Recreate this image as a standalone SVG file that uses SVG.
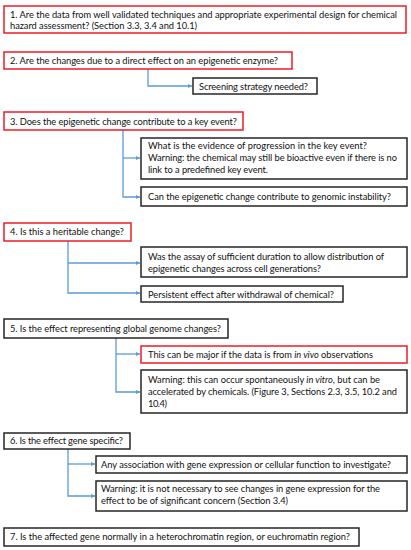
<svg xmlns="http://www.w3.org/2000/svg" width="411" height="550" viewBox="0 0 411 550">
<style>
.red{fill:#fff;stroke:#ed1c24;stroke-width:1.5}
.blk{fill:#fff;stroke:#262626;stroke-width:1.5}
text{font-family:Lato,"Liberation Sans",sans-serif;font-size:9.3px;fill:#111}
.c{fill:none;stroke:#5b9bd5;stroke-width:1.3}
</style>
<defs>
<marker id="ah" viewBox="0 0 6 6" refX="6" refY="3" markerWidth="4" markerHeight="4" orient="auto" markerUnits="userSpaceOnUse">
<path d="M0,0 L6,3 L0,6 z" fill="#5b9bd5"/>
</marker>
</defs>
<rect width="411" height="550" fill="#fff"/>
<g id="connectors">
<path class="c" d="M148,69 V86 H192" marker-end="url(#ah)"/>
<path class="c" d="M123,130 V197 H140" marker-end="url(#ah)"/>
<path class="c" d="M123,158 H140" marker-end="url(#ah)"/>
<path class="c" d="M68,241 V293 H140" marker-end="url(#ah)"/>
<path class="c" d="M68,263 H140" marker-end="url(#ah)"/>
<path class="c" d="M116,338 V392 H140" marker-end="url(#ah)"/>
<path class="c" d="M116,354 H140" marker-end="url(#ah)"/>
<path class="c" d="M68,449 V496 H95" marker-end="url(#ah)"/>
<path class="c" d="M68,464 H95" marker-end="url(#ah)"/>
</g>
<g id="q1">
<rect class="red" x="4" y="6" width="402" height="27"/>
<text x="10" y="17.5" textLength="387">1. Are the data from well validated techniques and appropriate experimental design for chemical</text>
<text x="10" y="28.5" textLength="187">hazard assessment? (Section 3.3, 3.4 and 10.1)</text>
</g>
<g id="q2">
<rect class="red" x="4" y="52" width="288" height="17"/>
<text x="10" y="64" textLength="268">2. Are the changes due to a direct effect on an epigenetic enzyme?</text>
</g>
<g id="screening">
<rect class="blk" x="193" y="78" width="124" height="16"/>
<text x="199" y="89.5" textLength="109">Screening strategy needed?</text>
</g>
<g id="q3">
<rect class="red" x="4" y="112" width="239" height="18"/>
<text x="10" y="124.5" textLength="227">3. Does the epigenetic change contribute to a key event?</text>
</g>
<g id="progression">
<rect class="blk" x="141" y="138" width="266" height="41"/>
<text x="148" y="149" textLength="219">What is the evidence of progression in the key event?</text>
<text x="148" y="161" textLength="249">Warning: the chemical may still be bioactive even if there is no</text>
<text x="148" y="173" textLength="120">link to a predefined key event.</text>
</g>
<g id="instability">
<rect class="blk" x="141" y="187" width="266" height="19"/>
<text x="148" y="199.5" textLength="243">Can the epigenetic change contribute to genomic instability?</text>
</g>
<g id="q4">
<rect class="red" x="4" y="223" width="127" height="18"/>
<text x="10" y="234.5" textLength="114">4. Is this a heritable change?</text>
</g>
<g id="duration">
<rect class="blk" x="141" y="247" width="266" height="30"/>
<text x="148" y="260" textLength="236">Was the assay of sufficient duration to allow distribution of</text>
<text x="148" y="271.5" textLength="173">epigenetic changes across cell generations?</text>
</g>
<g id="persistent">
<rect class="blk" x="141" y="286" width="202" height="16"/>
<text x="148" y="297.5" textLength="186">Persistent effect after withdrawal of chemical?</text>
</g>
<g id="q5">
<rect class="blk" x="4" y="319" width="224" height="19"/>
<text x="10" y="332" textLength="211">5. Is the effect representing global genome changes?</text>
</g>
<g id="invivo">
<rect class="red" x="141" y="346" width="266" height="17"/>
<text x="148" y="358" textLength="225">This can be major if the data is from <tspan font-style="italic">in vivo</tspan> observations</text>
</g>
<g id="invitro">
<rect class="blk" x="141" y="370" width="266" height="43"/>
<text x="148" y="383" textLength="232">Warning: this can occur spontaneously <tspan font-style="italic">in vitro</tspan>, but can be</text>
<text x="148" y="395" textLength="249">accelerated by chemicals. (Figure 3, Sections 2.3, 3.5, 10.2 and</text>
<text x="148" y="406.5" textLength="19">10.4)</text>
</g>
<g id="q6">
<rect class="blk" x="4" y="433" width="126" height="16"/>
<text x="10" y="444" textLength="113">6. Is the effect gene specific?</text>
</g>
<g id="association">
<rect class="blk" x="96" y="456" width="311" height="17"/>
<text x="101" y="467.5" textLength="290">Any association with gene expression or cellular function to investigate?</text>
</g>
<g id="concern">
<rect class="blk" x="96" y="481" width="311" height="30"/>
<text x="101" y="492" textLength="279">Warning: it is not necessary to see changes in gene expression for the</text>
<text x="101" y="504" textLength="187">effect to be of significant concern (Section 3.4)</text>
</g>
<g id="q7">
<rect class="blk" x="4" y="528" width="355" height="18"/>
<text x="10" y="540" textLength="340">7. Is the affected gene normally in a heterochromatin region, or euchromatin region?</text>
</g>
</svg>
